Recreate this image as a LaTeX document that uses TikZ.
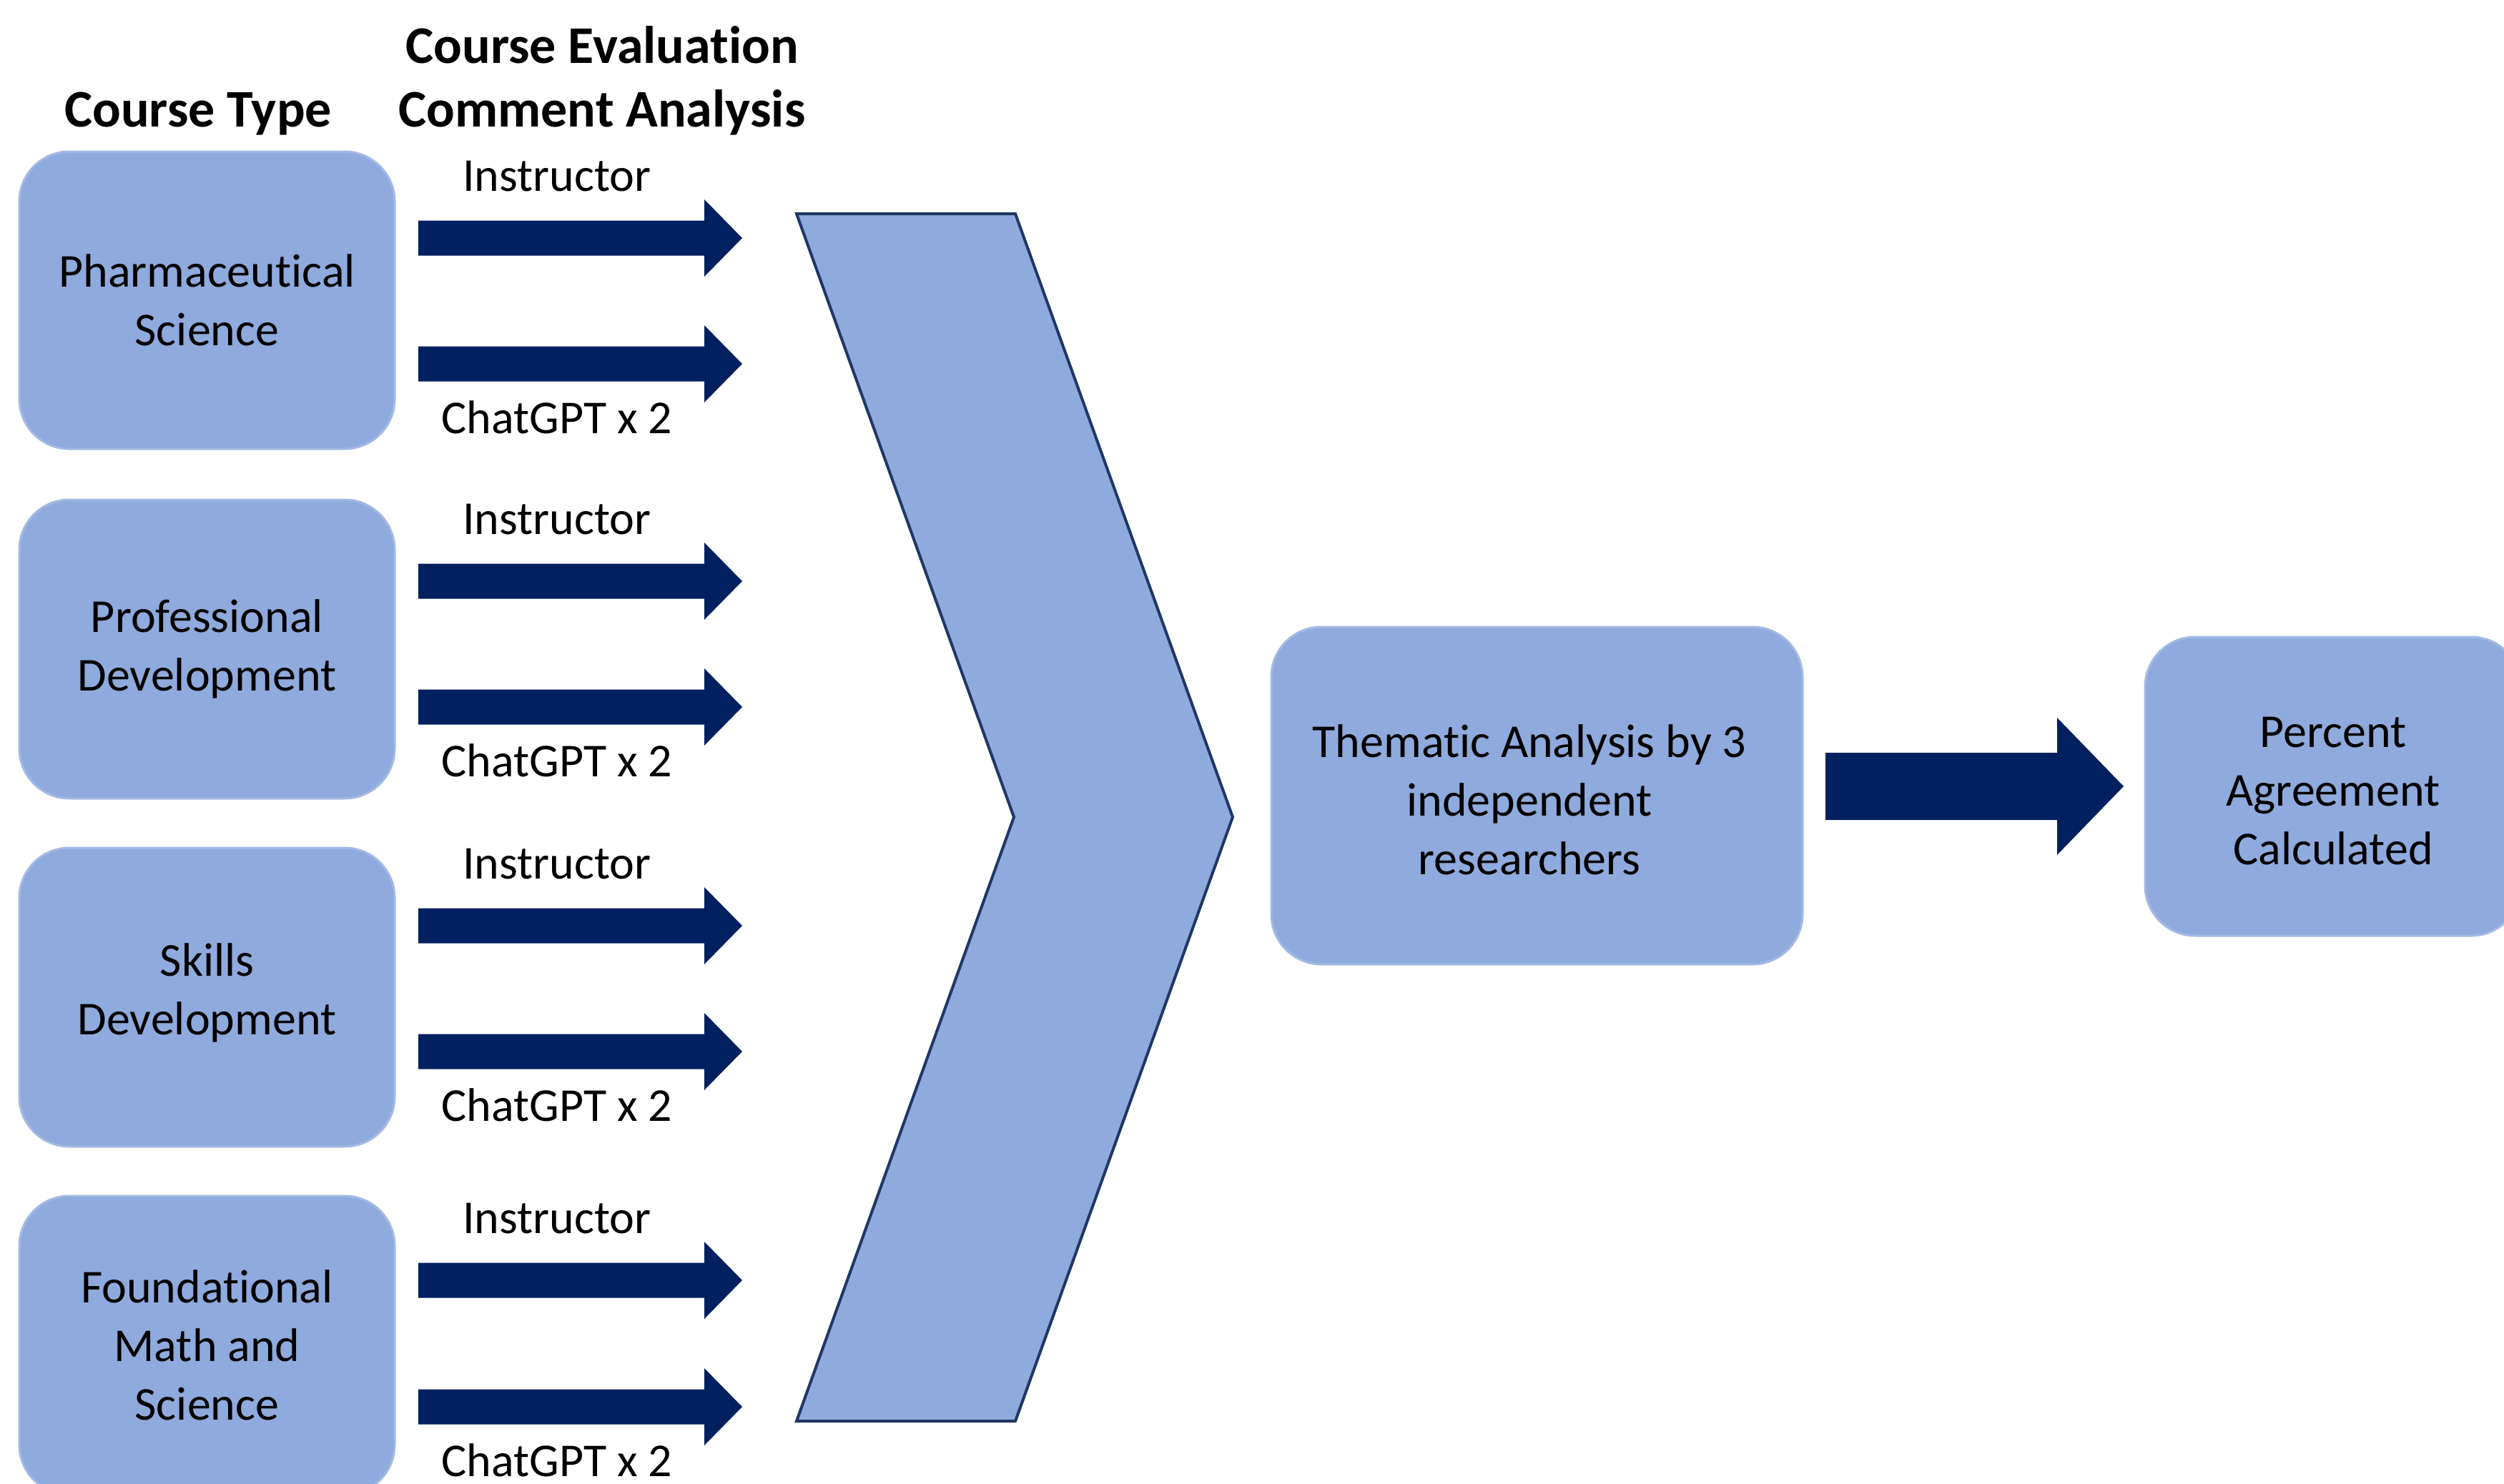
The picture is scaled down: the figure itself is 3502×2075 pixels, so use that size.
\documentclass[tikz,border=0pt]{standalone}
\usepackage{fontspec}
\setmainfont{Carlito}[Ligatures={NoCommon,NoRequired,NoContextual}, Contextuals=NoAlternate]
\newcommand{\nl}{\kern0pt }
\definecolor{boxblue}{HTML}{8FAADC}
\definecolor{boxedge}{HTML}{A3BAE4}
\definecolor{navy}{HTML}{002060}
\definecolor{chevedge}{HTML}{1F3864}
\tikzset{
  box/.style={rounded corners=70pt, fill=boxblue, draw=boxedge, line width=3pt,
    align=center, inner sep=0pt, font=\fontsize{66}{82}\selectfont},
  boxtext/.style={align=center, inner sep=0pt, font=\fontsize{66}{82}\selectfont},
  header/.style={align=center, inner sep=0pt, font=\bfseries\fontsize{74}{89}\selectfont},
  lbl/.style={anchor=base, inner sep=0pt, font=\fontsize{66}{80}\selectfont},
  smallarrow/.pic={\fill[navy] (0,-24.5) -- (400,-24.5) -- (400,-54) -- (453,0) -- (400,54) -- (400,24.5) -- (0,24.5) -- cycle;},
  bigarrow/.pic={\fill[navy] (0,-47) -- (324,-47) -- (324,-96) -- (417,0) -- (324,96) -- (324,47) -- (0,47) -- cycle;}
}
\begin{document}
\begin{tikzpicture}[x=1pt,y=-1pt]
\useasboundingbox (0,0) rectangle (3502,2075);
\clip (0,0) rectangle (3502,2075);

% headers
\node[header, anchor=base] (hType) at (277,177) {Course Type};
\node[header, anchor=base] (hEval1) at (842,88) {Course Evaluat\nl ion};
\node[header, anchor=base] (hEval2) at (842,177) {Comment Analysis};

% course type boxes
\node[box, minimum width=525pt, minimum height=416pt] (pharm) at (289.5,420) {Pharmaceut\nl ical\\Science};
\node[box, minimum width=525pt, minimum height=418pt] (prof) at (289.5,908) {Professional\\Development};
\node[box, minimum width=525pt, minimum height=418pt] (skills) at (289.5,1395) {};
\node[boxtext] (skillsText) at (289.5,1389) {Skills\\Development};
\node[box, minimum width=525pt, minimum height=418pt] (found) at (289.5,1882) {Foundat\nl ional\\Math and\\Science};

% arrows and labels
\pic (a1) at (585,333) {smallarrow};
\pic (a2) at (585,509) {smallarrow};
\pic (a3) at (585,813) {smallarrow};
\pic (a4) at (585,989) {smallarrow};
\pic (a5) at (585,1295) {smallarrow};
\pic (a6) at (585,1471) {smallarrow};
\pic (a7) at (585,1791) {smallarrow};
\pic (a8) at (585,1968) {smallarrow};

\node[lbl] (i1) at (779,267) {Instructor};
\node[lbl] (c1) at (779,606) {ChatGPT x 2};
\node[lbl] (i2) at (779,747) {Instructor};
\node[lbl] (c2) at (779,1086) {ChatGPT x 2};
\node[lbl] (i3) at (779,1229) {Instructor};
\node[lbl] (c3) at (779,1568) {ChatGPT x 2};
\node[lbl] (i4) at (779,1725) {Instructor};
\node[lbl] (c4) at (779,2065) {ChatGPT x 2};

% chevron
\coordinate (chTL) at (1114,299);
\coordinate (chTR) at (1420,299);
\coordinate (chP) at (1724,1143);
\coordinate (chBR) at (1420,1988);
\coordinate (chBL) at (1114,1988);
\coordinate (chN) at (1418,1143);
\draw[fill=boxblue, draw=chevedge, line width=4pt, line join=miter]
  (chTL) -- (chTR) -- (chP) -- (chBR) -- (chBL) -- (chN) -- cycle;

% right part
\node[box, minimum width=743pt, minimum height=472pt] (them) at (2149.5,1113) {};
\node[boxtext] (themText) at (2139,1119) {Themat\nl ic Analysis by 3\\independent\\researchers};
\pic (big) at (2553,1100) {bigarrow};
\node[box, minimum width=526pt, minimum height=418pt] (pct) at (3263,1100) {};
\node[boxtext] (pctText) at (3263,1107) {Percent\\Agreement\\Calculated};
\end{tikzpicture}
\end{document}
